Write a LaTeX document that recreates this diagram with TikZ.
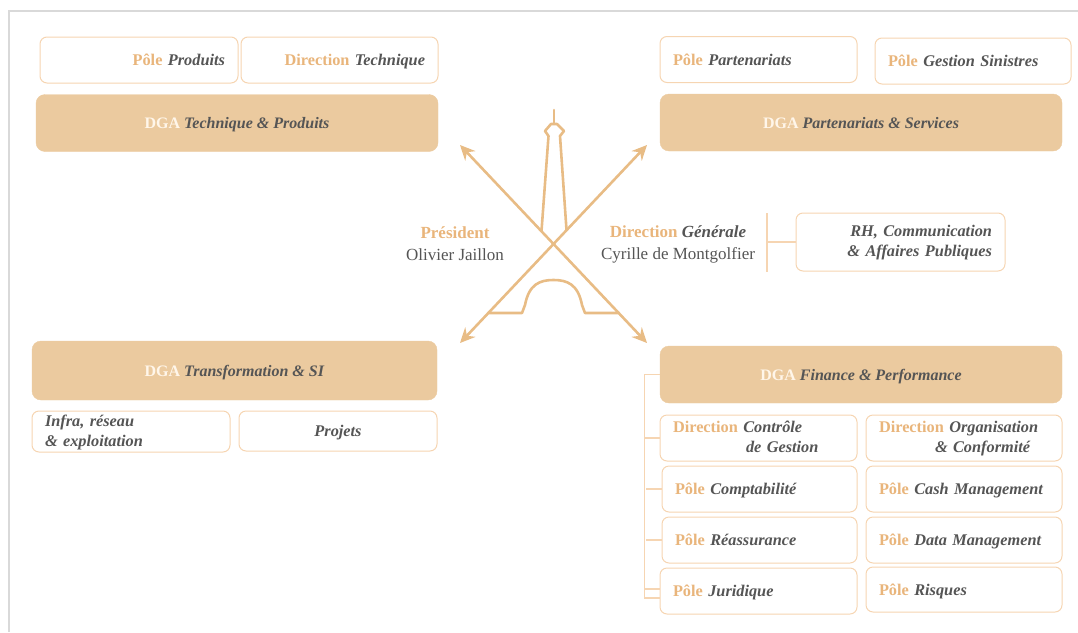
\documentclass[tikz,border=0pt]{standalone}
\usepackage{fontspec}
\setmainfont{Liberation Serif}
\usepackage{xcolor}
\usepackage{tikz}
\usetikzlibrary{arrows.meta}
\definecolor{frame}{HTML}{D9D9D9}
\definecolor{sand}{HTML}{EBCA9F}
\definecolor{edge}{HTML}{F6D5B2}
\definecolor{accent}{HTML}{E9B57B}
\definecolor{ink}{HTML}{555555}
\definecolor{tower}{HTML}{E8BC85}
\definecolor{dgatext}{HTML}{FFF6EA}
\newcommand{\lbl}[2]{\textcolor{accent}{\textbf{#1}} \textbf{\textit{#2}}}
\newcommand{\dga}[1]{\textcolor{dgatext}{\textbf{DGA}} \textbf{\textit{#1}}}
\tikzset{
  subbox/.style={draw=edge, line width=1pt, fill=white, rounded corners=7pt, text=ink,
    inner xsep=13pt, inner ysep=2pt, minimum height=46pt, text depth=0pt,
    font=\fontsize{16.3}{20}\selectfont},
  twolines/.style={text depth=22pt},
  dgabox/.style={draw=sand, fill=sand, rounded corners=9pt, text=ink, align=center,
    minimum width=402pt, minimum height=57pt, text depth=0pt, font=\fontsize{16}{20}\selectfont},
  person/.style={align=center, text=ink, font=\fontsize{17}{22}\selectfont},
  link/.style={draw=edge, line width=1.2pt},
  towerline/.style={draw=tower, line width=2.6pt, line join=round, line cap=round},
  eiffeltip/.tip={Stealth[length=15pt, width=14pt, inset=5pt]}
}

\begin{document}
\begin{tikzpicture}[x=1pt, y=-1pt]
  \useasboundingbox (0,0) rectangle (1078,632);
  \draw[frame, line width=2pt] (9,632) -- (9,11) -- (1078,11);

  % DGA Technique & Produits
  \node[subbox, text width=172pt, align=right] (produits) at (139,60) {\lbl{Pôle}{Produits}};
  \node[subbox, text width=171pt, align=right] (tech) at (339.5,60) {\lbl{Direction}{Technique}};
  \node[dgabox] (dgatp) at (237,123) {\dga{Technique \& Produits}};

  % DGA Partenariats & Services
  \node[subbox, text width=171pt, align=left] (partn) at (758.5,59.5) {\lbl{Pôle}{Partenariats}};
  \node[subbox, text width=170pt, align=left] (sinistres) at (973,61) {\lbl{Pôle}{Gestion Sinistres}};
  \node[dgabox] (dgaps) at (861,122.5) {\dga{Partenariats \& Services}};

  % Président et Direction Générale
  \node[person] (pres) at (455,244) {\textcolor{accent}{\textbf{Président}}\\Olivier Jaillon};
  \node[person] (dg) at (678,244) {\lbl{Direction}{Générale}\\Cyrille de Montgolfier};
  \node[subbox, twolines, text width=183pt, align=right, minimum height=58pt] (rh) at (900.5,242)
    {\textbf{\textit{RH, Communication}}\\\textbf{\textit{\& Affaires Publiques}}};
  \coordinate (bar) at (767,242);
  \draw[link] ([yshift=29pt]bar) -- ([yshift=-30pt]bar);
  \draw[link] (bar) -- (rh.west);

  % DGA Transformation & SI
  \node[dgabox, minimum width=405pt, minimum height=59pt] (dgatsi) at (234.5,370.5) {\dga{Transformation \& SI}};
  \node[subbox, twolines, text width=172pt, align=left, minimum height=41pt] (infra) at (131,431.5)
    {\textbf{\textit{Infra, réseau}}\\\textbf{\textit{\& exploitation}}};
  \node[subbox, text width=172pt, align=center, minimum height=40pt] (projets) at (338,431) {\textbf{\textit{Projets}}};

  % DGA Finance & Performance
  \node[dgabox] (dgafp) at (861,374.5) {\dga{Finance \& Performance}};
  \node[subbox, twolines, text width=171pt, align=left] (ctrl) at (758.5,438)
    {\lbl{Direction}{Contrôle}\\\hspace*{73pt}\textbf{\textit{de Gestion}}};
  \node[subbox, twolines, text width=170pt, align=left] (orga) at (964,438)
    {\lbl{Direction}{Organisation}\\\hspace*{56pt}\textbf{\textit{\& Conformité}}};
  \node[subbox, text width=169pt, align=left, xshift=1pt] (compta) at (758.5,489) {\lbl{Pôle}{Comptabilité}};
  \node[subbox, text width=170pt, align=left] (cash) at (964,489) {\lbl{Pôle}{Cash Management}};
  \node[subbox, text width=169pt, align=left, xshift=1pt] (reass) at (758.5,540) {\lbl{Pôle}{Réassurance}};
  \node[subbox, text width=170pt, align=left] (data) at (964,540) {\lbl{Pôle}{Data Management}};
  \node[subbox, text width=171pt, align=left] (jurid) at (758.5,591) {\lbl{Pôle}{Juridique}};
  \node[subbox, text width=170pt, align=left, minimum height=45pt] (risques) at (964,589.5) {\lbl{Pôle}{Risques}};

  \draw[link] (dgafp.west) -- ++(-15pt,0) |- ([yshift=-7pt]jurid.west);
  \draw[link] (ctrl.west) -- ++(-15pt,0);
  \draw[link] (compta.west) -- ++(-16pt,0);
  \draw[link] (reass.west) -- ++(-16pt,0);
  \draw[link] ([yshift=2pt]jurid.west) -- ++(-15pt,0);

  % Tour Eiffel
  \coordinate (nw) at (460,145);
  \coordinate (ne) at (647,145);
  \coordinate (sw) at (460,343);
  \coordinate (se) at (647,343);
  \draw[towerline, {eiffeltip}-{eiffeltip}] (nw) -- (se);
  \draw[towerline, {eiffeltip}-{eiffeltip}] (sw) -- (ne);
  \draw[towerline] (554,110) -- (554,124);
  \draw[towerline] (541.5,231) -- (548.5,136) -- (545,131) -- (551,124) -- (557,124)
    -- (564,131) -- (560,136) -- (566.5,230);
  \draw[towerline] (488,313) -- (522,313) -- (525,305)
    .. controls (529,284) and (540,280) .. (553.5,280)
    .. controls (567,280) and (578,284) .. (582,305) -- (585,313) -- (619,313);
\end{tikzpicture}
\end{document}
